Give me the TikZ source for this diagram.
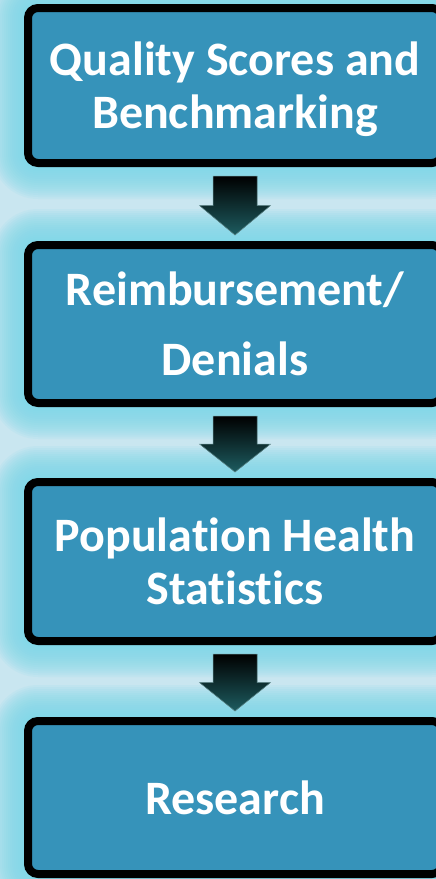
\documentclass[tikz,border=0pt]{standalone}
\usepackage{fontspec}
\setmainfont{Carlito}[Ligatures=CommonOff]
\usetikzlibrary{calc,backgrounds}

\definecolor{boxblue}{HTML}{3693BA}
\definecolor{glowcyan}{HTML}{7CD8E8}
\definecolor{paleback}{HTML}{C9E6F0}
\definecolor{arrowteal}{HTML}{1D5C60}

\tikzset{
  stage/.style={draw=black, line width=8pt, fill=boxblue, rounded corners=10pt,
    minimum width=414pt, inner sep=0pt, text=white, align=center, text depth=0pt,
    font=\bfseries\fontsize{48}{53}\selectfont},
  flowshade/.style={top color=black, middle color=black, bottom color=arrowteal,
    draw=arrowteal!70, line width=0.5pt},
  glowlayer/.style={fill=glowcyan, opacity=0.11},
}

% block arrow from the bottom of one stage to the top of the next
\newcommand\flowarrow[2]{%
  \path ($(#1.south)+(0,9)$) coordinate (#1-out)
        ($(#2.north)+(0,-6)$) coordinate (#2-in);
  \filldraw[flowshade] let \p1=(#1-out), \p2=(#2-in) in
    (\x1-22pt,\y1) -- (\x1+22pt,\y1) -- (\x1+22pt,{(\y1+\y2)/2})
    -- (\x1+35.5pt,{(\y1+\y2)/2}) -- (\x1,\y2) -- (\x1-35.5pt,{(\y1+\y2)/2})
    -- (\x1-22pt,{(\y1+\y2)/2}) -- cycle;
}

% soft cyan halo around a stage
\newcommand\halo[1]{%
  \foreach \k in {2,4,...,32}
    \fill[glowlayer, rounded corners={14pt+\k pt}]
      ($(#1.south west)+(-\k,\k)$) rectangle ($(#1.north east)+(\k,-\k)$);
}

\begin{document}
\begin{tikzpicture}[x=1pt,y=-1pt]
  \useasboundingbox (0,0) rectangle (436,879);
  \clip (0,0) rectangle (436,879);

  \node[stage, minimum height=155pt] (b1) at (235,85.5)
    {Quality Scores and\\Benchmarking};
  \node[stage, minimum height=158pt] (b2) at (235,324)
    {Reimbursement/\\[17pt]Denials};
  \node[stage, minimum height=159pt] (b3) at (235,561.5)
    {Population Health\\Statistics};
  \node[stage, minimum height=153pt] (b4) at (235,797.5)
    {Research};

  \begin{scope}[on background layer]
    \fill[paleback] (0,0) rectangle (436,879);
    \halo{b1}\halo{b2}\halo{b3}\halo{b4}
  \end{scope}

  \flowarrow{b1}{b2}
  \flowarrow{b2}{b3}
  \flowarrow{b3}{b4}
\end{tikzpicture}
\end{document}
